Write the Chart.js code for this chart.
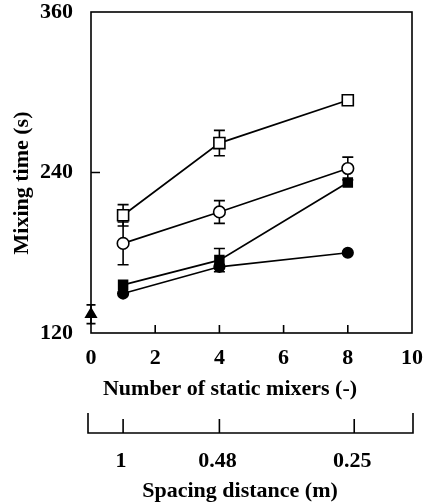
<!DOCTYPE html>
<html><head><meta charset="utf-8">
<script src="https://cdn.jsdelivr.net/npm/chart.js@4.4.1/dist/chart.umd.min.js"></script>
<style>html,body{margin:0;padding:0;background:#fff}</style>
</head><body>
<canvas id="c" width="424" height="504" style="display:block;width:424px;height:504px"></canvas>
<script>
// ---- data ----
const mixers = [1, 4, 8];
const openSquare = [208, 262, 294];
const openSquareErr = [8, 9.5, 0];
const openCircle = [187, 210.5, 243];
const openCircleErr = [16, 8.5, 8.5];
const filledSquare = [156, 174.5, 232.5];
const filledSquareErr = [0, 8.7, 0];
const filledCircle = [149.5, 169.5, 180];
const filledCircleErr = [0, 0, 0];
const noMixerX = [0];
const noMixer = [134];
const noMixerErr = [7];
const xTicks = [0, 2, 4, 6, 8, 10];
const yTicks = [120, 240, 360];
const spacingPositions = [1, 4, 8.2];
const spacingLabels = ['1', '0.48', '0.25'];
const xTitle = 'Number of static mixers (-)';
const yTitle = 'Mixing time (s)';
const spacingTitle = 'Spacing distance (m)';

const FONT = "'Liberation Serif', 'Times New Roman', serif";
const pts = (xs, ys) => xs.map((x, i) => ({x, y: ys[i]}));

const errSets = [
  {xs: mixers, ys: openSquare, es: openSquareErr, cap: 5.5},
  {xs: mixers, ys: openCircle, es: openCircleErr, cap: 5.5},
  {xs: mixers, ys: filledSquare, es: filledSquareErr, cap: 5.5},
  {xs: mixers, ys: filledCircle, es: filledCircleErr, cap: 5.5},
  {xs: noMixerX, ys: noMixer, es: noMixerErr, cap: 4.5}
];

const decor = {
  id: 'decor',
  beforeDatasetsDraw(chart) {
    const ctx = chart.ctx, sx = chart.scales.x, sy = chart.scales.y;
    ctx.save();
    ctx.strokeStyle = '#000'; ctx.lineWidth = 1.6;
    errSets.forEach(s => {
      s.xs.forEach((xv, i) => {
        const e = s.es[i]; if (!e) return;
        const px = sx.getPixelForValue(xv);
        const t = sy.getPixelForValue(s.ys[i] + e), b = sy.getPixelForValue(s.ys[i] - e);
        ctx.beginPath();
        ctx.moveTo(px, t); ctx.lineTo(px, b);
        ctx.moveTo(px - s.cap, t); ctx.lineTo(px + s.cap, t);
        ctx.moveTo(px - s.cap, b); ctx.lineTo(px + s.cap, b);
        ctx.stroke();
      });
    });
    ctx.restore();
  },
  afterDraw(chart) {
    const ctx = chart.ctx, a = chart.chartArea, sx = chart.scales.x, sy = chart.scales.y;
    ctx.save();
    ctx.strokeStyle = '#000'; ctx.lineWidth = 1.6;
    ctx.strokeRect(a.left, a.top, a.right - a.left, a.bottom - a.top);
    ctx.beginPath();
    xTicks.forEach(v => {
      if (v === sx.min || v === sx.max) return;
      const px = sx.getPixelForValue(v);
      ctx.moveTo(px, a.bottom); ctx.lineTo(px, a.bottom - 8);
    });
    yTicks.forEach(v => {
      if (v === sy.min || v === sy.max) return;
      const py = sy.getPixelForValue(v);
      ctx.moveTo(a.left, py); ctx.lineTo(a.left + 9, py);
    });
    ctx.stroke();
    // secondary axis: spacing distance
    const y0 = 433, xl = a.left - 3, xr = a.right + 1;
    ctx.beginPath();
    ctx.moveTo(xl, y0 - 20); ctx.lineTo(xl, y0); ctx.lineTo(xr, y0); ctx.lineTo(xr, y0 - 20);
    spacingPositions.forEach(v => {
      const px = sx.getPixelForValue(v);
      ctx.moveTo(px, y0); ctx.lineTo(px, y0 - 14);
    });
    ctx.stroke();
    ctx.fillStyle = '#000';
    ctx.font = 'bold 22px ' + FONT;
    ctx.textAlign = 'center'; ctx.textBaseline = 'middle';
    spacingPositions.forEach((v, i) => {
      ctx.fillText(spacingLabels[i], sx.getPixelForValue(v) - 2, 461);
    });
    ctx.fillText(xTitle, 230, 389);
    ctx.fillText(spacingTitle, 240, 491);
    ctx.translate(22, 183);
    ctx.rotate(-Math.PI / 2);
    ctx.fillText(yTitle, 0, 0);
    ctx.restore();
  }
};

const lineDs = (label, data, style, radius, fill) => ({
  label, data, showLine: true, clip: false,
  borderColor: '#000', borderWidth: 1.7,
  pointStyle: style, pointRadius: radius,
  pointBackgroundColor: fill, pointBorderColor: '#000', pointBorderWidth: 1.6
});

new Chart(document.getElementById('c'), {
  type: 'scatter',
  data: {
    datasets: [
      lineDs('open square', pts(mixers, openSquare), 'rect', 7.8, '#fff'),
      lineDs('open circle', pts(mixers, openCircle), 'circle', 5.8, '#fff'),
      lineDs('filled square', pts(mixers, filledSquare), 'rect', 6.3, '#000'),
      lineDs('filled circle', pts(mixers, filledCircle), 'circle', 5.3, '#000'),
      lineDs('no mixer', pts(noMixerX, noMixer), 'triangle', 6, '#000')
    ]
  },
  options: {
    responsive: false, animation: false, devicePixelRatio: 1, events: [],
    layout: {padding: {left: 0, top: 12, right: 12, bottom: 104}},
    plugins: {legend: {display: false}, tooltip: {enabled: false}},
    scales: {
      x: {
        type: 'linear', min: 0, max: 10,
        grid: {display: false, drawTicks: false}, border: {display: false},
        ticks: {color: '#000', padding: 12, font: {family: FONT, size: 22, weight: 'bold'}},
        afterBuildTicks: s => { s.ticks = xTicks.map(v => ({value: v})); },
        afterFit: s => { s.height = 67; s.paddingLeft = 0; s.paddingRight = 0; }
      },
      y: {
        type: 'linear', min: 120, max: 360,
        grid: {display: false, drawTicks: false}, border: {display: false},
        ticks: {color: '#000', padding: 18, font: {family: FONT, size: 22, weight: 'bold'}},
        afterBuildTicks: s => { s.ticks = yTicks.map(v => ({value: v})); },
        afterFit: s => { s.width = 91; s.paddingTop = 0; s.paddingBottom = 0; }
      }
    }
  },
  plugins: [decor]
});
</script>
</body></html>
